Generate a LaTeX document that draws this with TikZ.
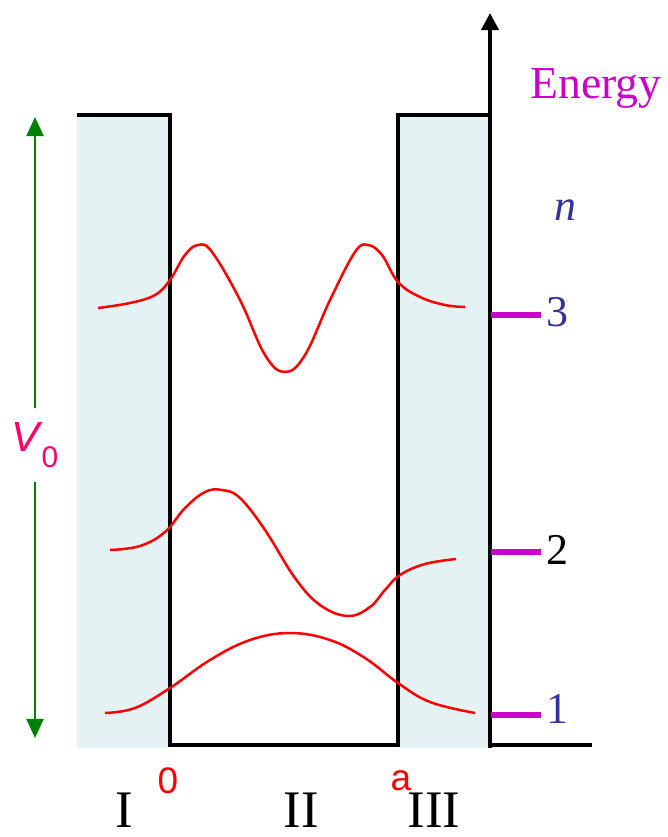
\documentclass[tikz,border=0pt]{standalone}
\usepackage{fontspec}
\setmainfont{Liberation Serif}
\setsansfont{Liberation Sans}
\usetikzlibrary{positioning, arrows.meta}
\definecolor{wellcyan}{RGB}{228, 242, 243}
\definecolor{levelmag}{RGB}{204, 0, 204}
\definecolor{nblue}{RGB}{51, 51, 153}
\definecolor{vzeropink}{RGB}{255, 0, 102}
\definecolor{vgreen}{RGB}{0, 128, 0}

\begin{document}
\begin{tikzpicture}[x=0.01cm, y=-0.01cm,
    wall/.style={black, line width=0.04cm, line join=miter},
    wave/.style={red, line width=0.025cm, smooth, tension=0.65},
    levelbar/.style={levelmag, line width=0.06cm},
    levlabel/.style={font=\rmfamily\fontsize{12.5}{12.5}\selectfont},
    roman/.style={font=\rmfamily\fontsize{15}{15}\selectfont, text=black, inner sep=0pt}]
    \useasboundingbox (0,0) rectangle (667,837);

    % Barrier regions
    \fill[wellcyan] (77,115) rectangle (170,748);
    \fill[wellcyan] (398,115) rectangle (490,748);

    % Well outline
    \draw[wall] (77,115) -- (170,115) -- (170,745) -- (398,745) -- (398,115) -- (490,115);
    \draw[wall] (490,745) -- (592,745);

    % Energy axis
    \coordinate (axbot) at (490,748);
    \coordinate (axtop) at (490,13);
    \draw[wall, -{Triangle[length=0.17cm, width=0.17cm]}] (axbot) -- (axtop);
    \node[text=levelmag, font=\rmfamily\fontsize{13}{13}\selectfont] (energy) at (596,88) {Energy};
    \node[text=nblue, font=\rmfamily\fontsize{12.5}{12.5}\selectfont] (nlab) at (565,210) {\textit{n}};

    % Barrier height V0
    \coordinate (vtop) at (35,117);
    \coordinate (vbot) at (35,738);
    \node[text=vzeropink, font=\sffamily\fontsize{12}{12}\selectfont, inner ysep=0.13cm] (vzero) at (35,445)
         {\textit{V}\kern-0.5pt\raisebox{-0.75ex}{\fontsize{8.5}{8.5}\selectfont 0}};
    \draw[vgreen, line width=0.02cm, -{Triangle[length=0.19cm, width=0.17cm]}] (vzero) -- (vtop);
    \draw[vgreen, line width=0.02cm, -{Triangle[length=0.19cm, width=0.17cm]}] (vzero) -- (vbot);

    % Levels
    \draw[levelbar] (491,315) -- (541,315);
    \draw[levelbar] (491,552) -- (541,552);
    \draw[levelbar] (491,715) -- (541,715);
    \node[levlabel, text=nblue] (lev3) at (557,312) {3};
    \node[levlabel, text=black] (lev2) at (557,550) {2};
    \node[levlabel, text=nblue] (lev1) at (557,709) {1};

    % Wavefunctions
    \draw[wave] plot coordinates {(98,308) (130,303) (155,295) (170,280) (185,255) (198,245)
        (212,252) (240,300) (265,355) (285,372) (305,355) (330,300) (355,252) (368,245)
        (382,255) (398,282) (420,297) (445,305) (465,307)};
    \draw[wave] plot coordinates {(110,550) (140,546) (165,532) (185,508) (205,492) (222,490)
        (240,498) (265,530) (295,578) (320,605) (348,616) (370,607) (385,590) (400,575)
        (425,564) (456,559)};
    \draw[wave] plot coordinates {(105,713) (135,708) (170,688) (210,660) (250,640) (290,633)
        (330,640) (365,658) (398,683) (430,702) (475,713)};

    % Position labels
    \node[text=red, font=\sffamily\fontsize{10.5}{10.5}\selectfont] (xzero) at (168,781) {0};
    \node[text=red, font=\sffamily\fontsize{10.5}{10.5}\selectfont] (xa) at (401,781) {a};
    \node[roman] (regI) at (124,810) {I};
    \node[roman] (regII) at (301,810) {II};
    \node[roman] (regIII) at (434,810) {III};
\end{tikzpicture}
\end{document}
